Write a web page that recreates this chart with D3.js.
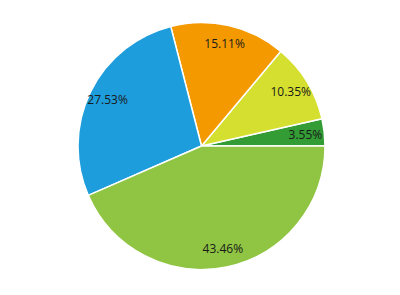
<!DOCTYPE html>
<html>
<head>
<meta charset="utf-8">
<script src="https://cdn.jsdelivr.net/npm/d3@7"></script>
<style>
  body { margin: 0; background: #fff; }
  text { font-family: "Open Sans", "Noto Sans", sans-serif; font-size: 12px; fill: #1a1a1a; }
</style>
</head>
<body>
<div id="pie_chart"></div>
<script>
// slice values in percent, counterclockwise from 3 o'clock
const values = [3.55, 10.35, 15.11, 27.53, 43.46];
const labels = ["3.55%", "10.35%", "15.11%", "27.53%", "43.46%"];
const colors = ["#339c35", "#d5df2f", "#f49a00", "#1e9ddc", "#8fc543"];

const width = 400,
  height = 295,
  radius = 123.5,
  cx = 201.5,
  cy = 146;

const svg = d3
  .select("#pie_chart")
  .append("svg")
  .attr("width", width)
  .attr("height", height)
  .append("g")
  .attr("transform", "translate(" + cx + "," + cy + ")");

// start at east and go counterclockwise
const pie = d3
  .pie()
  .sort(null)
  .startAngle(Math.PI / 2)
  .endAngle(Math.PI / 2 - 2 * Math.PI)
  .value((d) => d);

const arcs = pie(values);

const arc = d3.arc().innerRadius(0).outerRadius(radius);
const labelArc = d3.arc().innerRadius(104.5).outerRadius(104.5);

svg
  .selectAll("path")
  .data(arcs)
  .enter()
  .append("path")
  .attr("d", arc)
  .attr("fill", (d, i) => colors[i])
  .attr("stroke", "#fff")
  .attr("stroke-width", 1.5)
  .attr("stroke-linejoin", "round");

svg
  .selectAll("text")
  .data(arcs)
  .enter()
  .append("text")
  .attr("transform", (d) => "translate(" + labelArc.centroid(d) + ")")
  .attr("text-anchor", "middle")
  .attr("dy", ".35em")
  .text((d, i) => labels[i]);
</script>
</body>
</html>
